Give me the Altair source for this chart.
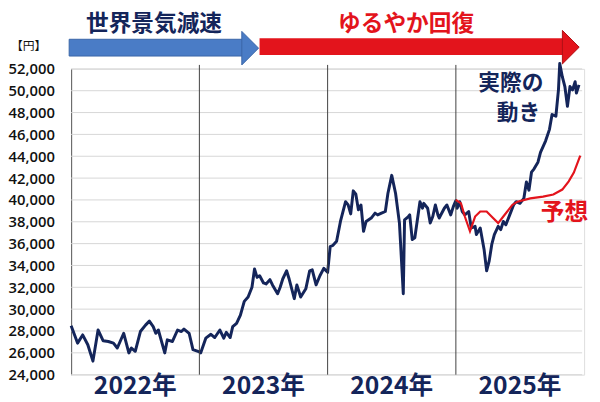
import altair as alt
import pandas as pd

NAVY = "#14255a"
RED = "#e3141c"
BLUE = "#4a7cc6"
BLUE_EDGE = "#3a66a8"
JP = "Noto Sans CJK JP"

# ---- data ----
years = [2022, 2023, 2024, 2025]
year_labels = ["2022年", "2023年", "2024年", "2025年"]
dividers = [2023, 2024, 2025]
y_ticks = list(range(24000, 52001, 2000))

t_actual = [
    2022.00, 2022.05, 2022.09, 2022.13, 2022.17, 2022.21, 2022.25, 2022.29, 2022.33, 2022.36,
    2022.41, 2022.45, 2022.47, 2022.50, 2022.54, 2022.58, 2022.61, 2022.64, 2022.66, 2022.68,
    2022.73, 2022.75, 2022.79, 2022.83, 2022.86, 2022.88, 2022.92, 2022.95, 2023.00,
    2023.01, 2023.05, 2023.09, 2023.12, 2023.16, 2023.19, 2023.21, 2023.24, 2023.26, 2023.29,
    2023.32, 2023.35, 2023.38, 2023.41, 2023.43, 2023.45, 2023.47, 2023.50, 2023.52, 2023.55,
    2023.57, 2023.61, 2023.63, 2023.65, 2023.68, 2023.70, 2023.74, 2023.76, 2023.79, 2023.83,
    2023.86, 2023.88, 2023.91, 2023.94, 2023.97, 2024.00,
    2024.02, 2024.04, 2024.07, 2024.10, 2024.14, 2024.16, 2024.18, 2024.20, 2024.22, 2024.24,
    2024.26, 2024.28, 2024.30, 2024.34, 2024.37, 2024.39, 2024.42, 2024.45, 2024.47, 2024.50,
    2024.53, 2024.56, 2024.57, 2024.59, 2024.60, 2024.63, 2024.64, 2024.66, 2024.68, 2024.72,
    2024.74, 2024.75, 2024.78, 2024.80, 2024.82, 2024.84, 2024.86, 2024.87, 2024.91, 2024.93,
    2024.96, 2024.98, 2025.00,
    2025.01, 2025.03, 2025.05, 2025.07, 2025.10, 2025.12, 2025.15, 2025.16, 2025.19, 2025.22,
    2025.24, 2025.26, 2025.28, 2025.30, 2025.33, 2025.35, 2025.37, 2025.39, 2025.42, 2025.45,
    2025.47, 2025.50, 2025.53, 2025.55, 2025.57, 2025.59, 2025.61, 2025.64, 2025.66, 2025.70,
    2025.73, 2025.75, 2025.78, 2025.80, 2025.81, 2025.83, 2025.85, 2025.87, 2025.89, 2025.91,
    2025.93, 2025.94, 2025.96,
]
v_actual = [
    28490, 26890, 27640, 26740, 25240, 28090, 27100, 27040, 26890, 26440,
    27790, 25990, 26440, 26140, 27950, 28540, 28900, 28400, 27790, 28090,
    25990, 27190, 27040, 28090, 27950, 28180, 27790, 26290, 26080,
    25990, 27340, 27700, 27400, 28090, 27340, 27880, 27400, 28400, 28700,
    29450, 30710, 31110, 32010, 33670, 32910, 33060, 32400, 32310, 32700,
    32220, 31410, 32010, 32760, 33510, 32760, 30960, 32220, 31110, 31860,
    33510, 33600, 32220, 33060, 33730, 33370,
    35720, 35830, 36220, 38030, 39840, 39540, 38720, 40830, 40530, 39090,
    39540, 37130, 38030, 38340, 38790, 38630, 38790, 38940, 40590, 42250,
    40590, 37880, 35770, 31410, 38180, 38480, 38630, 36370, 36530, 39840,
    39240, 39690, 39240, 37880, 38480, 39540, 38630, 38340, 39240, 39540,
    38630, 39390, 39930,
    39240, 39840, 38940, 38630, 38940, 37430, 37580, 36830, 37430, 35470,
    33510, 34420, 35920, 36830, 37580, 37280, 38030, 37730, 38630, 39540,
    39840, 39690, 40140, 41640, 40890, 42550, 42850, 43450, 44350, 45410,
    46460, 47820, 47670, 50080, 52490, 51280, 50380, 48570, 50380, 50080,
    50830, 49780, 50530,
]

t_forecast = [2025.00, 2025.04, 2025.07, 2025.11, 2025.15, 2025.19, 2025.24, 2025.29, 2025.33,
              2025.37, 2025.44, 2025.48, 2025.58, 2025.68, 2025.76, 2025.83, 2025.88, 2025.92,
              2025.97]
v_forecast = [40000, 39690, 38480, 37130, 38480, 38940, 38940, 38340, 37880,
              38480, 39540, 39840, 40140, 40300, 40500, 40950, 41700, 42500,
              44050]

df_actual = pd.DataFrame({"t": t_actual, "v": v_actual})
df_forecast = pd.DataFrame({"t": t_forecast, "v": v_forecast})
df_years = pd.DataFrame({"year": years, "label": year_labels})
df_div = pd.DataFrame({"t": dividers})
df_ticks = pd.DataFrame({"v": y_ticks})

xscale = alt.Scale(domain=[2022, 2026], nice=False, zero=False)
yscale = alt.Scale(domain=[24000, 52000], nice=False, zero=False)

yaxis = alt.Axis(
    values=y_ticks, format=",d", title=None, ticks=False, labelPadding=17,
    labelOverlap=False, labelBound=False, tickCount=15, grid=False,
    labelFont="Open Sans", labelFontSize=15, labelFontWeight=600, labelColor="#111111",
    domainColor="#595959", domainWidth=1,
)

# horizontal gridlines, one per 2,000 yen, drawn through the y scale
grid_layer = alt.Chart(df_ticks).mark_rule(color="#d6d6d6", strokeWidth=1).encode(
    y=alt.Y("v:Q", scale=yscale, axis=yaxis),
    x=alt.value(0), x2=alt.value(518),
)
actual = alt.Chart(df_actual).mark_line(color=NAVY, strokeWidth=3, strokeJoin="round").encode(
    x=alt.X("t:Q", scale=xscale, axis=None),
    y=alt.Y("v:Q", scale=yscale, axis=yaxis),
)
forecast = alt.Chart(df_forecast).mark_line(color=RED, strokeWidth=2.2).encode(
    x=alt.X("t:Q", scale=xscale, axis=None),
    y=alt.Y("v:Q", scale=yscale, axis=yaxis),
)
div_rules = alt.Chart(df_div).mark_rule(color="#404040", strokeWidth=1).encode(
    x=alt.X("t:Q", scale=xscale, axis=None),
    y=alt.value(-4), y2=alt.value(310),
)
year_text = alt.Chart(df_years).transform_calculate(mid="datum.year + 0.5").mark_text(
    font=JP, fontSize=25, fontWeight="bold", color=NAVY, align="center", baseline="middle"
).encode(
    x=alt.X("mid:Q", scale=xscale, axis=None),
    y=alt.value(322),
    text="label:N",
)


def label(text, x, y, size, color, weight="bold", font=JP):
    return alt.Chart(pd.DataFrame({"s": [text]})).mark_text(
        font=font, fontSize=size, fontWeight=weight, color=color,
        align="center", baseline="middle",
    ).encode(text="s:N", x=alt.value(x), y=alt.value(y))


one = pd.DataFrame({"k": [0]})
blue_shaft = alt.Chart(one).mark_rect(color=BLUE, stroke=BLUE_EDGE, strokeWidth=1).encode(
    x=alt.value(-2), x2=alt.value(174), y=alt.value(-30), y2=alt.value(-13))
blue_head = alt.Chart(one).mark_point(
    shape="M-0.5,-1L0.5,0L-0.5,1Z", size=34 * 34, filled=True, fill=BLUE,
    stroke=BLUE_EDGE, strokeWidth=1, opacity=1,
).encode(x=alt.value(181.5), y=alt.value(-21))
red_shaft = alt.Chart(one).mark_rect(color=RED).encode(
    x=alt.value(191), x2=alt.value(499), y=alt.value(-31), y2=alt.value(-14))
red_head = alt.Chart(one).mark_point(
    shape="M-0.5,-1L0.5,0L-0.5,1Z", size=34 * 34, filled=True, fill=RED,
    stroke="#b01015", strokeWidth=1, opacity=1,
).encode(x=alt.value(506.5), y=alt.value(-22))

texts = [
    label("世界景気減速", 84, -45, 23, NAVY),
    label("ゆるやか回復", 339.5, -45, 23, RED),
    label("【円】", -43, -23.5, 12, "#111111", weight="normal"),
    label("実際の", 445.7, 14, 22, NAVY),
    label("動き", 453.5, 45, 22, NAVY),
    label("予想", 500, 146, 24, RED),
]

chart = alt.layer(
    grid_layer, actual, div_rules, forecast, year_text,
    blue_shaft, blue_head, red_shaft, red_head, *texts,
).properties(
    width=520, height=310,
    padding={"left": 64, "top": 59, "right": 8, "bottom": 25},
    autosize=alt.AutoSizeParams(type="none"),
).configure_view(stroke=None).configure(background="white")

chart.save("out.html", embed_options={"renderer": "svg", "actions": False})
